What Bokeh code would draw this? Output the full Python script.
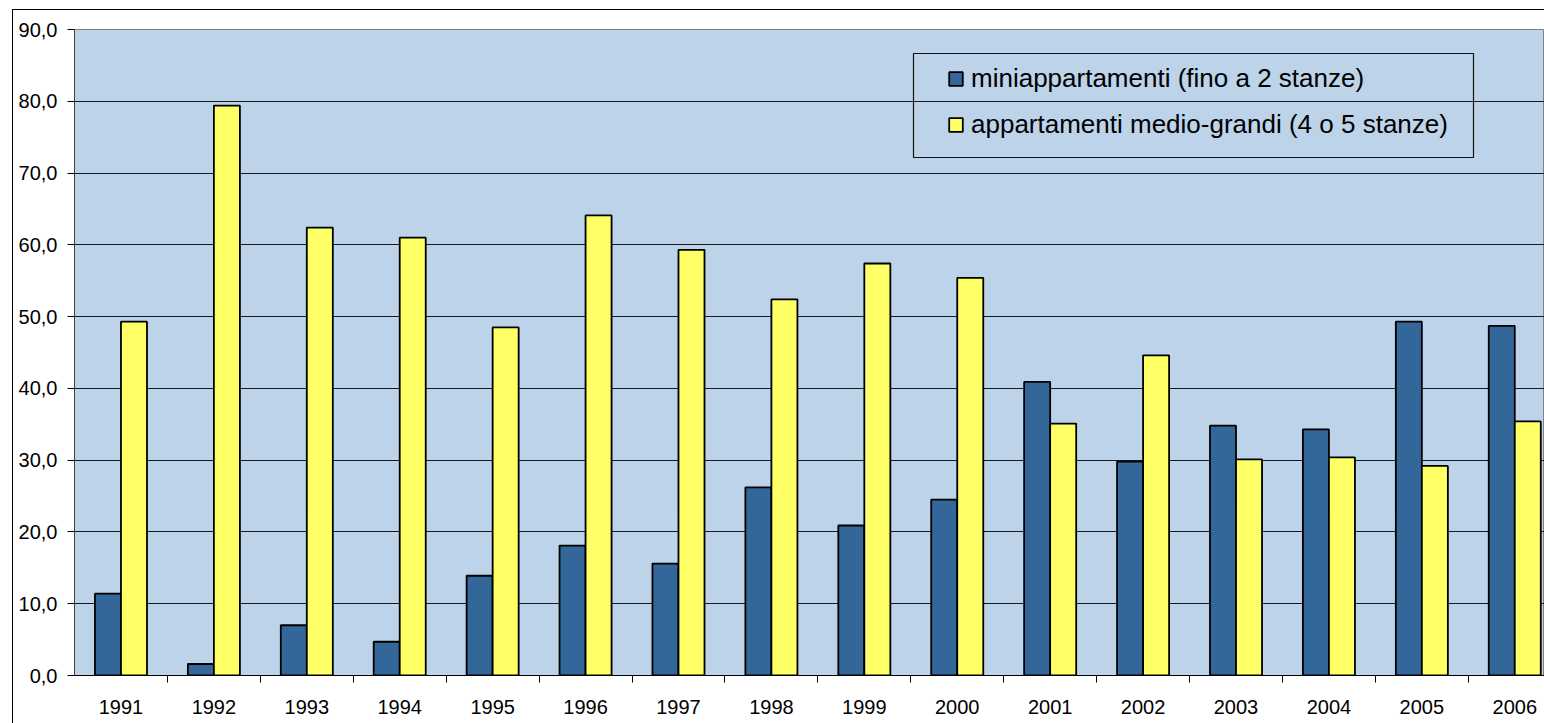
from bokeh.plotting import figure
from bokeh.models import FixedTicker, Legend, LegendItem, BoxAnnotation, ColumnDataSource
from bokeh.embed import file_html
from bokeh.resources import INLINE

# ---- data ----
years = ["1991", "1992", "1993", "1994", "1995", "1996", "1997", "1998",
         "1999", "2000", "2001", "2002", "2003", "2004", "2005", "2006"]
mini = [11.4, 1.6, 7.0, 4.7, 13.9, 18.1, 15.6, 26.2,
        20.9, 24.5, 40.9, 29.8, 34.8, 34.3, 49.3, 48.7]
medio = [49.3, 79.4, 62.4, 61.0, 48.5, 64.1, 59.3, 52.4,
         57.4, 55.4, 35.1, 44.6, 30.1, 30.4, 29.2, 35.4]
series_names = ["miniappartamenti (fino a 2 stanze)",
                "appartamenti medio-grandi (4 o 5 stanze)"]
y_ticks = [0, 10, 20, 30, 40, 50, 60, 70, 80, 90]

# ---- styling ----
BLUE = "#336699"
YELLOW = "#FFFF66"
BG = "#BDD3E9"
FONT = "Liberation Sans"
BAR_W = 0.28

n = len(years)
centers = [i + 0.5 for i in range(n)]
boundaries = [i for i in range(1, n + 1)]

src = ColumnDataSource(dict(
    x_mini=[c - BAR_W / 2 for c in centers],
    x_medio=[c + BAR_W / 2 for c in centers],
    mini=mini, medio=medio))

p = figure(width=1532, height=714, x_range=(0, 15.82), y_range=(0, 90),
           output_backend="svg", toolbar_location=None,
           min_border_left=62, min_border_top=20, min_border_right=0,
           min_border_bottom=48, margin=(9, 0, 0, 12),
           background_fill_color=BG, border_fill_color=None,
           outline_line_color="#808080", outline_line_width=1,
           styles={"box-shadow": "inset 1px 1px 0 0 #000000"})

r1 = p.vbar(x="x_mini", top="mini", width=BAR_W, bottom=0, source=src,
            fill_color=BLUE, line_color="black", line_width=1.8)
r2 = p.vbar(x="x_medio", top="medio", width=BAR_W, bottom=0, source=src,
            fill_color=YELLOW, line_color="black", line_width=1.8)

# grids
p.xgrid.visible = False
p.ygrid.ticker = FixedTicker(ticks=y_ticks)
p.ygrid.grid_line_color = "#1a1a1a"
p.ygrid.grid_line_width = 1

# y axis
p.yaxis.ticker = FixedTicker(ticks=y_ticks)
p.yaxis.major_label_overrides = {t: f"{t:.1f}".replace(".", ",") for t in y_ticks}
p.yaxis.major_tick_out = 7
p.yaxis.major_tick_in = 0
p.yaxis.minor_tick_out = 0
p.yaxis.minor_tick_in = 0
p.yaxis.axis_line_color = "#404040"
p.yaxis.major_tick_line_color = "black"
p.yaxis.major_label_text_font = FONT
p.yaxis.major_label_text_font_size = "20px"
p.yaxis.major_label_text_color = "black"
p.yaxis.major_label_standoff = 10

# x axis
p.xaxis.ticker = FixedTicker(ticks=centers, minor_ticks=boundaries)
p.xaxis.major_label_overrides = {c: y for c, y in zip(centers, years)}
p.xaxis.major_tick_out = 0
p.xaxis.major_tick_in = 0
p.xaxis.minor_tick_out = 7
p.xaxis.minor_tick_in = 0
p.xaxis.minor_tick_line_color = "black"
p.xaxis.axis_line_color = "black"
p.xaxis.major_label_text_font = FONT
p.xaxis.major_label_text_font_size = "20px"
p.xaxis.major_label_text_color = "black"
p.xaxis.major_label_standoff = 17

# legend frame
box = BoxAnnotation(left=839, right=1399, top=622, bottom=518,
                    left_units="screen", right_units="screen",
                    top_units="screen", bottom_units="screen",
                    fill_alpha=0, line_color="#111111", line_alpha=1.0,
                    line_width=1.2)
p.add_layout(box)

legend = Legend(items=[LegendItem(label=series_names[0], renderers=[r1]),
                       LegendItem(label=series_names[1], renderers=[r2])],
                location=(873, 535), padding=0, margin=0,
                border_line_alpha=0, background_fill_alpha=0,
                glyph_width=17, glyph_height=17, label_standoff=7,
                label_height=30, spacing=15,
                label_text_font=FONT, label_text_font_size="26px",
                label_text_color="black")
p.add_layout(legend)

open("out.html", "w").write(file_html(p, INLINE))
